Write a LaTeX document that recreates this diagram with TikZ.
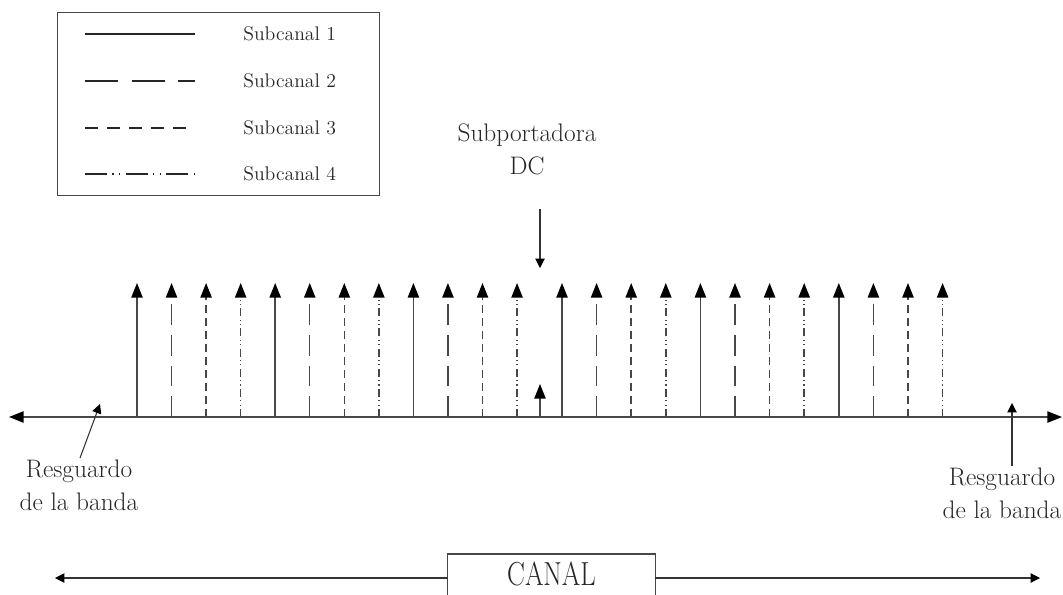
\documentclass[tikz,border=0pt]{standalone}
\usetikzlibrary{arrows.meta}
\begin{document}
\begin{tikzpicture}[x=0.75pt,y=-0.75pt,
  ln/.style={line width=1.1pt, draw=black!72},
  thin/.style={line width=0.8pt, draw=black!80},
  stemtip/.style={-{Triangle[length=11pt,width=8.5pt,color=black]}},
  smalltip/.style={-{Triangle[length=7pt,width=7pt,color=black]}},
  sA/.style={ln},
  sB/.style={ln, dash pattern=on 15.5pt off 7.5pt},
  sC/.style={ln, dash pattern=on 6pt off 3.75pt},
  sD/.style={ln, dash pattern=on 6pt off 2.5pt on 0.8pt off 2.5pt on 0.8pt off 2.5pt},
  legA/.style={line width=1.4pt, draw=black!85},
  legB/.style={legA, dash pattern=on 25pt off 10pt},
  legC/.style={legA, dash pattern=on 9.75pt off 6.75pt},
  legD/.style={legA, dash pattern=on 16.5pt off 4pt on 1pt off 4pt on 1pt off 4pt},
  bigtxt/.style={font=\fontsize{19}{25}\selectfont, text=black!85, inner sep=0pt, align=center},
  legtxt/.style={font=\fontsize{14.8}{18}\selectfont, text=black!85, inner sep=0pt, anchor=west}]
\useasboundingbox (0,0) rectangle (1063,594);

% legend
\node[draw=black!72, line width=1.1pt, minimum width=241.5pt, minimum height=137.25pt, inner sep=0pt, anchor=north west] (legend) at (57,12) {};
\foreach \r/\s/\y in {1/legA/34,2/legB/81,3/legC/128,4/legD/174} {
  \coordinate (la\r) at (85,\y);
  \coordinate (lb\r) at (195,\y);
  \draw[\s] (la\r) -- (lb\r);
  \node[legtxt] (lt\r) at (243,\y) {Subcanal \r};
}

% axis
\coordinate (axL) at (9,417);
\coordinate (axR) at (1062,417);
\draw[ln, {Triangle[length=11pt,width=8.5pt,color=black]}-{Triangle[length=11pt,width=8.5pt,color=black]}] (axL) -- (axR);

% subcarriers
\foreach \i/\s in {0/sA,1/sB,2/sC,3/sD,4/sA,5/sB,6/sC,7/sD,8/sA,9/sB,10/sC,11/sD} {
  \coordinate (lbot\i) at ({137+34.55*\i},417);
  \coordinate (ltop\i) at ({137+34.55*\i},283);
  \draw[\s, stemtip] (lbot\i) -- (ltop\i);
  \coordinate (rbot\i) at ({562+34.6*\i},417);
  \coordinate (rtop\i) at ({562+34.6*\i},283);
  \draw[\s, stemtip] (rbot\i) -- (rtop\i);
}

% DC subcarrier
\coordinate (dcb) at (540,417);
\coordinate (dct) at (540,384);
\draw[ln, stemtip] (dcb) -- (dct);
\node[bigtxt, anchor=north] (dctxt) at (527,123.5) {Subportadora\\DC};
\coordinate (dcs) at (540,209);
\coordinate (dce) at (540,268);
\draw[thin, smalltip] (dcs) -- (dce);

% guard bands
\node[bigtxt, anchor=north] (gl) at (79,459.5) {Resguardo\\de la banda};
\coordinate (gls) at (80,458);
\coordinate (gle) at (100,404);
\draw[thin, smalltip] (gls) -- (gle);
\node[bigtxt, anchor=north] (gr) at (1002,467.5) {Resguardo\\de la banda};
\coordinate (grs) at (1012,466);
\coordinate (gre) at (1012,403);
\draw[thin, smalltip] (grs) -- (gre);

% channel (box open at the bottom edge of the picture)
\node[minimum width=155.25pt, minimum height=30pt, inner sep=0pt, anchor=north,
      font=\fontsize{20}{24}\selectfont, text=black!85] (canal) at (551.5,554)
      {\scalebox{1}[1.25]{CANAL}};
\draw[draw=black!72, line width=1.1pt] (canal.south west) -- (canal.north west) -- (canal.north east) -- (canal.south east);
\coordinate (cl) at (55,578);
\coordinate (cr) at (1040,578);
\draw[thin, smalltip] (cl -| canal.west) -- (cl);
\draw[thin, smalltip] (cr -| canal.east) -- (cr);
\end{tikzpicture}
\end{document}
